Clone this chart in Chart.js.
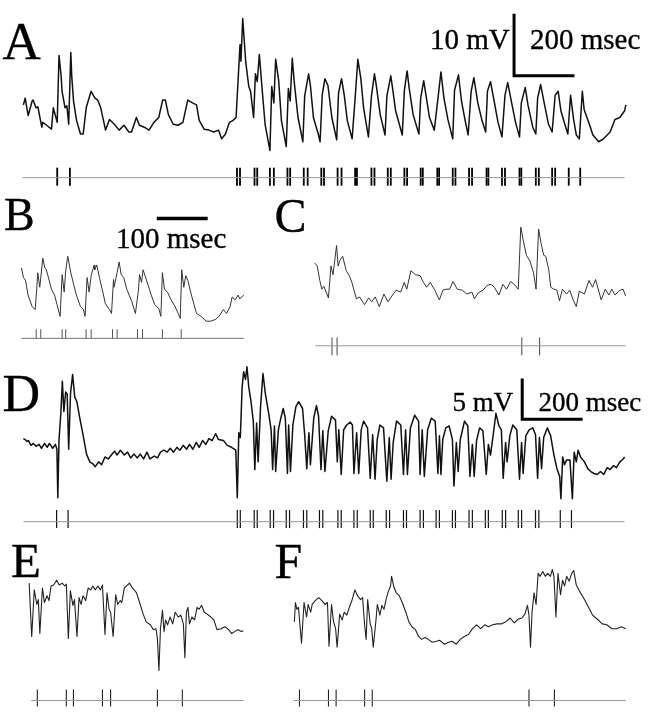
<!DOCTYPE html>
<html><head><meta charset="utf-8">
<script src="https://cdn.jsdelivr.net/npm/chart.js@4/dist/chart.umd.min.js"></script>
<style>
html,body{margin:0;padding:0;background:#fff;}
#wrap{position:relative;width:652px;height:720px;overflow:hidden;background:#fff;}
#c{position:absolute;left:0;top:0;width:652px;height:720px;}
.lbl{position:absolute;font-family:"Liberation Serif","Tinos","Times New Roman","Nimbus Roman","DejaVu Serif",serif;line-height:1;white-space:nowrap;color:#000;-webkit-text-stroke:0.35px #000;}
</style></head><body>
<div id="wrap">
<canvas id="c" width="652" height="720"></canvas>
<div class="lbl" style="left:2.5px;top:15px;font-size:53px">A</div>
<div class="lbl" style="left:430px;top:25px;font-size:29px">10 mV</div>
<div class="lbl" style="left:530px;top:25px;font-size:29px">200 msec</div>
<div class="lbl" style="left:4px;top:192px;font-size:46px">B</div>
<div class="lbl" style="left:116px;top:224px;font-size:29px">100 msec</div>
<div class="lbl" style="left:274.5px;top:192px;font-size:48px">C</div>
<div class="lbl" style="left:2.5px;top:368px;font-size:52px">D</div>
<div class="lbl" style="left:452.5px;top:388.5px;font-size:27px">5 mV</div>
<div class="lbl" style="left:538.5px;top:388.5px;font-size:27px">200 msec</div>
<div class="lbl" style="left:11px;top:536px;font-size:49px">E</div>
<div class="lbl" style="left:274.5px;top:535.5px;font-size:50px">F</div>
</div>
<script>
// ---------- Panel A (time in ms, amplitude in a.u.; 6.4 a.u. = 1 mV) ----------
const A_TIME = [
0,6,16,29,32,42,48,61,64,77,
93,99,112,118,125,128,138,144,150,157,
160,166,176,189,198,208,224,237,246,256,
272,285,301,317,333,349,358,374,384,400,
416,432,448,461,470,480,496,512,528,544,
560,573,582,598,614,630,646,656,669,682,
694,704,
717,720,726,736,746,752,762,768,774,781,
790,800,816,822,829,835,845,854,870,877,
883,890,896,909,925,931,944,950,960,976,
982,989,998,1008,1021,1037,1043,1053,1062,1072,
1088,1098,1107,1117,1126,1142,1152,1162,1168,1181,
1197,1203,1216,1222,1232,1254,1261,1270,1277,1290,
1309,1315,1325,1334,1344,1360,
1373,1382,1392,1405,1421,1427,1440,1450,1462,1472,
1482,1491,1504,1517,1530,1536,1546,1558,1571,1584,
1594,1603,1616,1629,1642,1648,1661,1670,1686,1696,
1702,1712,1725,1738,1750,1760,1770,1779,1792,1802,
1811,1821,1830,1840,1850,1856,1869,1885,1904,1920,
1942,1958,1974,1990,1994];
const A_VALUE = [
53,60,42,57,58,50,51,30,35,32,
28,50,35,104,83,67,50,52,33,107,
83,57,37,23,23,50,67,60,58,50,
27,38,33,27,32,25,25,40,32,30,
27,35,40,58,58,43,33,32,35,58,
55,53,37,28,27,25,27,18,23,35,
37,40,
115,98,142,97,72,67,40,85,77,105,
70,33,6,72,55,100,78,37,10,70,
57,101,78,40,15,62,85,73,40,23,
15,63,80,73,40,17,65,80,63,37,
18,60,100,80,50,20,62,85,73,43,
22,62,83,70,47,22,68,88,70,43,
23,60,78,60,40,27,
62,87,60,38,18,68,84,57,37,22,
67,81,55,38,25,67,77,57,35,20,
63,76,55,35,20,55,71,53,30,23,
60,74,53,33,25,63,67,47,33,23,
63,38,22,18,67,48,37,22,15,18,
25,38,40,47,53];
const A_SPIKES = [112,154,707,717,765,774,816,829,874,883,928,941,986,995,1040,1053,1098,1104,1152,1162,1206,1216,1261,1270,1315,1322,1370,1376,1421,1430,1475,1485,1533,1539,1584,1594,1642,1648,1696,1706,1750,1760,1805,1843];

// ---------- Panel B ----------
const B_TIME = [
0,4,8,13,21,27,30,32,36,42,
46,49,59,65,70,76,80,84,87,91,
97,103,108,116,122,125,129,133,137,143,
144,148,154,160,165,173,177,181,182,188,
192,196,201,207,217,224,230,232,236,239,
241,249,255,262,270,274,277,281,287,293,
302,308,312,315,319,323,327,334,344,353,
363,372,382,388,397,403,410,414,420,426,
429,437];
const B_VALUE = [
65,55,52,37,25,22,43,60,45,75,
65,63,43,37,27,15,58,40,62,77,
60,47,37,25,22,15,55,40,57,68,
63,68,53,40,28,22,18,53,45,60,
71,58,55,43,30,18,42,58,50,63,
60,47,37,27,23,15,60,43,40,33,
25,18,13,63,45,57,52,37,18,15,
10,10,12,15,22,18,25,35,32,37,
33,37];
const B_SPIKES = [29,38,80,87,127,137,179,188,228,238,277,314];

// ---------- Panel C ----------
const C_TIME = [
0,5,10,14,18,27,32,36,43,46,
50,55,62,68,73,82,88,98,106,112,
119,127,136,144,153,160,169,176,181,189,
198,207,214,220,227,236,245,252,258,265,
272,280,290,299,309,314,321,331,339,347,
353,362,370,377,385,394,400,405,410,416,
423,430,435,440,445,450,454,460,464,470,
476,481,487,495,501,508,514,520,530,539,
546,552,563,571,578,584,590,600,606,611];
const C_VALUE = [
60,57,42,33,36,24,57,48,78,57,
63,67,52,47,40,23,25,17,24,20,
25,15,28,20,27,32,30,40,33,52,
48,47,40,35,40,32,22,32,33,33,
41,33,32,28,30,23,29,32,37,38,
35,27,38,33,41,37,33,97,83,68,
62,50,33,95,80,68,67,53,35,33,
32,21,33,28,32,22,15,31,28,42,
35,43,22,33,27,33,27,32,33,26];
const C_SPIKES = [34,44,407,442];

// ---------- Panel D (8.4 a.u. = 1 mV) ----------
const D_TIME = [
0,6,12,17,25,33,42,52,60,70,
79,86,97,106,111,114,118,124,129,134,
140,145,150,156,163,170,177,188,198,209,
220,230,238,249,259,270,281,291,302,310,
321,334,345,355,366,377,387,398,409,419,
433,444,454,465,476,486,497,508,518,529,
540,550,561,572,582,593,604,614,625,636,
646,662,675,689,703,708,713,718,724,729,
735,740,746,753,761,766,772,777,785,793,
801,812,820,825,831,835,844,852,860,867,
874,878,884,892,902,911,924,931,938,945,
950,961,970,977,985,991,998,1009,1020,1033,
1039,1044,1052,1060,1070,1082,1089,1094,1103,1110,
1118,1126,1139,1148,1156,1164,1171,1180,1192,1203,
1211,1217,1224,1235,1249,1258,1265,1271,1281,1295,
1308,1313,1320,1327,1338,1350,1363,1372,1377,1382,
1388,1398,1409,1420,1425,1433,1439,1446,1460,1471,
1478,1486,1492,1500,1510,1521,1532,1539,1546,1553,
1564,1574,1582,1588,1596,1601,1610,1620,1633,1642,
1649,1654,1663,1674,1686,1695,1702,1708,1715,1722,
1734,1745,1756,1766,1775,1779,1785,1791,1798,1809,
1817,1823,1830,1836,1844,1857,1868,1878,1889,1899,
1910,1921,1932,1942,1953,1963,1974,1985,1990];
const D_VALUE = [
69,68,66,67,62,64,61,63,59,64,
60,64,59,63,58,8,68,95,128,97,
117,115,58,115,135,112,107,88,72,53,
45,43,40,45,42,50,48,52,56,52,
57,52,55,49,53,49,53,48,55,48,
51,49,55,57,55,59,55,60,57,62,
58,63,58,65,60,67,63,69,67,74,
68,67,62,60,57,8,75,70,122,138,
130,143,122,108,87,37,85,45,102,136,
115,95,78,37,82,35,78,90,100,90,
33,83,35,83,102,107,100,73,38,75,
42,90,103,92,37,77,35,77,92,88,
45,78,32,78,83,86,83,33,75,33,
78,87,80,28,73,27,68,83,80,25,
70,27,65,87,83,32,78,32,80,93,
87,32,78,30,78,90,87,33,72,32,
68,80,82,68,20,65,35,68,87,82,
30,63,30,67,80,77,32,63,52,68,
95,82,78,28,65,45,72,83,78,27,
65,33,72,78,80,73,28,70,38,70,
80,72,52,38,30,7,50,42,47,47,
7,55,45,57,50,45,38,35,33,32,
35,32,39,37,41,39,45,48,50];
const D_SPIKES = [110,148,708,718,764,774,817,828,870,881,927,938,980,991,1041,1052,1094,1105,1148,1158,1201,1212,1258,1268,1313,1324,1366,1377,1420,1430,1475,1486,1529,1539,1585,1596,1638,1649,1695,1706,1777,1814];

// ---------- Panel E ----------
const E_TIME = [
0,5,10,15,18,21,26,30,35,39,
43,48,54,59,65,70,73,77,81,86,
89,94,98,102,106,111,116,121,125,130,
135,140,144,149,153,157,160,165,170,174,
179,182,187,193,197,203,211,217,224,230,
238,244,249,252,255,258,262,265,268,272,
277,282,287,293,298,303,306,309,312,315,
320,325,330,334,339,344,350,357,363,369,
377,385,392,398,404,410,417,421];
const E_VALUE = [
100,45,93,78,83,48,95,80,87,82,
97,98,103,98,100,97,99,43,92,77,
83,45,85,78,87,82,95,93,97,93,
97,93,98,47,90,73,70,45,88,78,
82,80,95,98,100,95,90,80,68,60,
57,52,53,43,10,53,72,50,62,57,
65,58,70,65,67,58,23,70,75,58,
65,62,75,73,77,70,68,65,62,52,
53,55,52,48,50,52,50,51];
const E_SPIKES = [16,73,87,144,160,252,301];

// ---------- Panel F ----------
const F_TIME = [
0,2,5,8,14,19,24,27,32,35,
41,48,54,60,65,68,73,77,81,84,
89,94,98,103,108,113,119,124,130,134,
138,141,144,149,152,155,160,163,168,172,
176,181,185,189,191,195,200,206,212,219,
225,231,238,244,250,257,263,271,279,286,
295,303,310,318,326,334,342,350,358,366,
374,381,390,398,407,415,424,432,440,447,
453,458,461,464,467,471,475,479,483,488,
493,498,503,507,510,514,518,523,527,531,
535,540,545,549,554,560,570,578,586,595,
605,614,624,633,643,651];
const F_VALUE = [
30,50,43,45,8,50,35,48,40,48,
52,55,52,48,50,5,48,30,23,4,
38,32,40,37,45,52,63,57,53,55,
27,12,53,28,23,4,30,48,37,47,
43,55,62,67,77,67,60,57,50,40,
30,25,22,15,12,14,12,9,10,11,
7,9,10,7,12,15,17,23,27,23,
27,25,27,28,28,30,34,29,33,34,
38,47,37,4,40,60,48,80,77,82,
77,80,77,84,77,35,80,58,73,67,
77,72,80,83,68,62,53,45,37,33,
28,27,23,23,25,23];
const F_SPIKES = [10,67,82,138,153,461,511];

// ---------- scale bars (lengths) ----------
const A_BAR = {ms:200, mv:10, unitsPerMv:6.4};
const B_BAR = {ms:100};
const D_BAR = {ms:200, mv:5, unitsPerMv:8.4};

// ---------- layout (page placement, styles) ----------
const W = 652, H = 720;
const PANELS = {
  A:{t:A_TIME,v:A_VALUE,s:A_SPIKES,x0:13,k:3.2,floor:150,lw:1.5,col:'#111',
     raster:{v:-22,tick:-21,r:9,from:-3,to:1990,tw:1.8,tc:'#000',lc:'#999'}},
  B:{t:B_TIME,v:B_VALUE,s:B_SPIKES,x0:11,k:1.9,floor:330,lw:1,col:'#333',
     raster:{v:-7.7,tick:-3.2,r:4.8,from:0,to:437,tw:1,tc:'#555',lc:'#777'}},
  C:{t:C_TIME,v:C_VALUE,s:C_SPIKES,x0:314.3,k:1.9,floor:320,lw:1,col:'#333',
     raster:{v:-25.3,tick:-26,r:9,from:1,to:611,tw:1,tc:'#444',lc:'#999'}},
  D:{t:D_TIME,v:D_VALUE,s:D_SPIKES,x0:13,k:3.2,floor:510,lw:1.5,col:'#111',
     raster:{v:-16.7,tick:-14,r:9,from:0,to:1990,tw:1.2,tc:'#111',lc:'#999'}},
  E:{t:E_TIME,v:E_VALUE,s:E_SPIKES,x0:19,k:1.9,floor:690,lw:1.1,col:'#222',
     raster:{v:-21,tick:-18.5,r:8.5,from:4,to:421,tw:1.1,tc:'#222',lc:'#999'}},
  F:{t:F_TIME,v:F_VALUE,s:F_SPIKES,x0:293.3,k:1.9,floor:660,lw:1.1,col:'#222',
     raster:{v:-51,tick:-48.5,r:8.5,from:-2,to:651,tw:1.1,tc:'#222',lc:'#999'}}
};

const scales = {};
const datasets = [];
const base = {pointRadius:0, tension:0, fill:false, clip:false, spanGaps:false};
for (const [id, p] of Object.entries(PANELS)) {
  scales['x'+id] = {type:'linear', display:false, bounds:'data', min:-p.x0*p.k, max:(W-p.x0)*p.k};
  scales['y'+id] = {type:'linear', display:false, bounds:'data', min:p.floor-H, max:p.floor};
  const ax = {xAxisID:'x'+id, yAxisID:'y'+id};
  datasets.push({...base, ...ax, borderColor:p.raster.lc, borderWidth:1,
    data:[{x:p.raster.from,y:p.raster.v},{x:p.raster.to,y:p.raster.v}]});
  datasets.push({...ax, showLine:false, pointStyle:'line', pointRotation:90,
    pointRadius:p.raster.r, pointBorderWidth:p.raster.tw, pointBorderColor:p.raster.tc,
    pointBackgroundColor:p.raster.tc, clip:false,
    data:p.s.map(t => ({x:t, y:p.raster.tick}))});
  datasets.push({...base, ...ax, borderColor:p.col, borderWidth:p.lw, borderJoinStyle:'round',
    data:p.t.map((t,i) => ({x:t, y:p.v[i]}))});
}
const aBarT = 1624, aBarV = 83;
datasets.push({...base, xAxisID:'xA', yAxisID:'yA', borderColor:'#000', borderWidth:3, borderCapStyle:'butt',
  data:[{x:aBarT,y:aBarV + A_BAR.mv*A_BAR.unitsPerMv},{x:aBarT,y:aBarV},{x:aBarT + A_BAR.ms,y:aBarV}]});
const bBarT = 266, bBarV = 116;
datasets.push({...base, xAxisID:'xB', yAxisID:'yB', borderColor:'#000', borderWidth:3.5, borderCapStyle:'butt',
  data:[{x:bBarT,y:bBarV},{x:bBarT + B_BAR.ms,y:bBarV}]});
const dBarT = 1651, dBarV = 89;
datasets.push({...base, xAxisID:'xD', yAxisID:'yD', borderColor:'#000', borderWidth:3, borderCapStyle:'butt',
  data:[{x:dBarT,y:dBarV + D_BAR.mv*D_BAR.unitsPerMv},{x:dBarT,y:dBarV},{x:dBarT + D_BAR.ms,y:dBarV}]});

new Chart(document.getElementById('c'), {
  type:'line',
  data:{datasets},
  options:{
    responsive:false, animation:false, events:[],
    layout:{padding:0},
    plugins:{legend:{display:false}, tooltip:{enabled:false}, title:{display:false}},
    scales
  }
});
</script>
</body></html>
